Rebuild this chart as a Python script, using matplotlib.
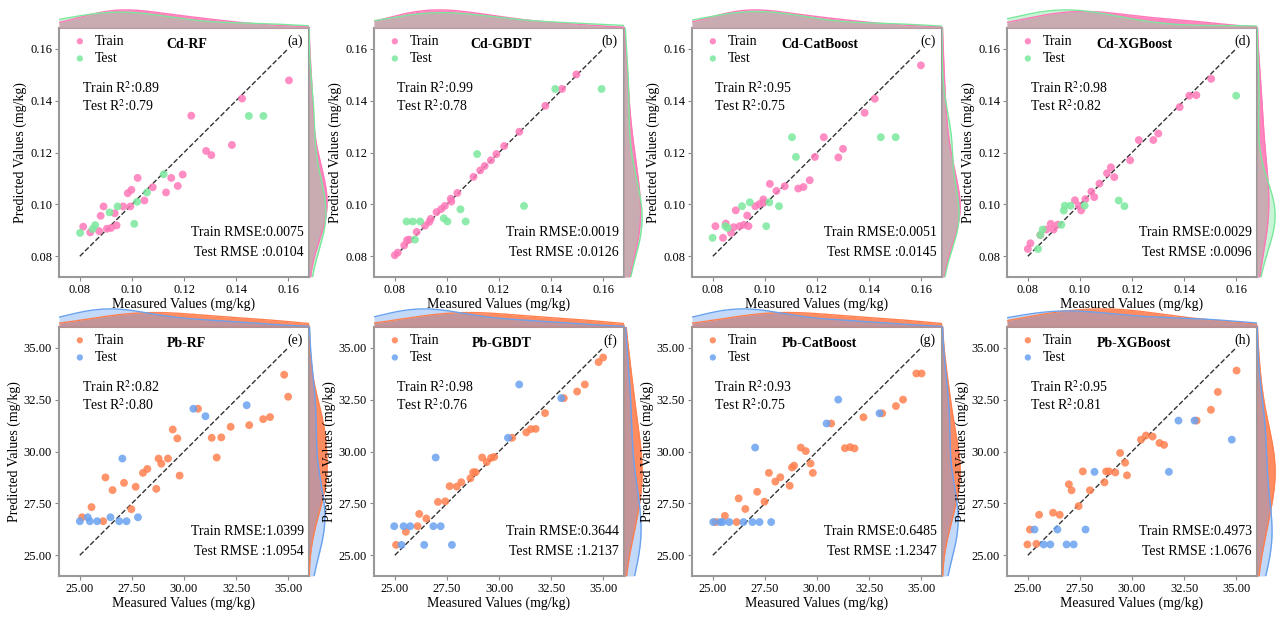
import numpy as np
import matplotlib
matplotlib.use('Agg')
import matplotlib.pyplot as plt

plt.rcParams['font.family'] = ['Liberation Serif', 'DejaVu Serif']
plt.rcParams['mathtext.fontset'] = 'stix'

# ---- data ----
cd_rf_train_x = [0.0813, 0.0840, 0.0874, 0.0880, 0.0891, 0.0904, 0.0920, 0.0934, 0.0941, 0.0966, 0.0984, 0.0998, 0.0994,
                 0.1022, 0.1048, 0.1080, 0.1131, 0.1151, 0.1176, 0.1195, 0.1228, 0.1285, 0.1305, 0.1384, 0.1423, 0.1603]
cd_rf_train_y = [0.0914, 0.0892, 0.0897, 0.0956, 0.0992, 0.0906, 0.0909, 0.0966, 0.0919, 0.0992, 0.1043, 0.1056, 0.0992,
                 0.1102, 0.1015, 0.1066, 0.1046, 0.1102, 0.1071, 0.1115, 0.1342, 0.1206, 0.1190, 0.1229, 0.1408, 0.1478]
cd_rf_test_x = [0.0801, 0.0849, 0.0859, 0.0914, 0.0945, 0.1009, 0.1020, 0.1058, 0.1122, 0.1449, 0.1505]
cd_rf_test_y = [0.0890, 0.0905, 0.0920, 0.0969, 0.0992, 0.0925, 0.1010, 0.1046, 0.1116, 0.1341, 0.1341]

cd_gbdt_train_x = [0.0800, 0.0811, 0.0836, 0.0847, 0.0855, 0.0884, 0.0916, 0.0932, 0.0938, 0.0960, 0.0978, 0.0992, 0.1015,
                   0.1017, 0.1040, 0.1102, 0.1128, 0.1145, 0.1169, 0.1190, 0.1220, 0.1278, 0.1378, 0.1442, 0.1497]
cd_gbdt_train_y = [0.0804, 0.0814, 0.0842, 0.0862, 0.0864, 0.0894, 0.0918, 0.0932, 0.0944, 0.0970, 0.0982, 0.0994, 0.1022,
                   0.1011, 0.1044, 0.1106, 0.1131, 0.1148, 0.1170, 0.1194, 0.1225, 0.1280, 0.1380, 0.1445, 0.1501]
cd_gbdt_test_x = [0.0845, 0.0869, 0.0897, 0.0877, 0.0988, 0.1002, 0.1052, 0.1072, 0.1116, 0.1296, 0.1416, 0.1594]
cd_gbdt_test_y = [0.0934, 0.0934, 0.0934, 0.0864, 0.0946, 0.0934, 0.0981, 0.0934, 0.1194, 0.0994, 0.1445, 0.1445]

cd_cat_train_x = [0.0810, 0.0839, 0.0850, 0.0870, 0.0880, 0.0888, 0.0903, 0.0919, 0.0932, 0.0937, 0.0963, 0.0979, 0.0994, 0.0994,
                  0.1019, 0.1044, 0.1076, 0.1128, 0.1148, 0.1172, 0.1192, 0.1226, 0.1282, 0.1300, 0.1383, 0.1422, 0.1599]
cd_cat_train_y = [0.0916, 0.0871, 0.0926, 0.0890, 0.0912, 0.0977, 0.0916, 0.0921, 0.0957, 0.0916, 0.0993, 0.1001, 0.1019, 0.1006,
                  0.1079, 0.1052, 0.1070, 0.1061, 0.1067, 0.1093, 0.1183, 0.1259, 0.1181, 0.1214, 0.1353, 0.1407, 0.1536]
cd_cat_test_x = [0.0799, 0.0848, 0.0857, 0.0912, 0.0942, 0.1005, 0.1017, 0.1054, 0.1104, 0.1119, 0.1445, 0.1502]
cd_cat_test_y = [0.0871, 0.0916, 0.0909, 0.0993, 0.1008, 0.0916, 0.1008, 0.0993, 0.1259, 0.1183, 0.1259, 0.1259]

cd_xgb_train_x = [0.0800, 0.0810, 0.0848, 0.0871, 0.0888, 0.0899, 0.0915, 0.0981, 0.0996, 0.1005, 0.1021, 0.1044, 0.1055,
                  0.1075, 0.1104, 0.1119, 0.1132, 0.1193, 0.1226, 0.1282, 0.1301, 0.1383, 0.1420, 0.1447, 0.1504]
cd_xgb_train_y = [0.0828, 0.0850, 0.0882, 0.0903, 0.0925, 0.0903, 0.0922, 0.1016, 0.0995, 0.0977, 0.1020, 0.1049, 0.1028,
                  0.1080, 0.1120, 0.1143, 0.1105, 0.1170, 0.1248, 0.1248, 0.1273, 0.1375, 0.1419, 0.1421, 0.1484]
cd_xgb_test_x = [0.0839, 0.0848, 0.0857, 0.0929, 0.0938, 0.0942, 0.0964, 0.1018, 0.1149, 0.1171, 0.1600]
cd_xgb_test_y = [0.0828, 0.0882, 0.0903, 0.0921, 0.0976, 0.0995, 0.0995, 0.0995, 0.1015, 0.0993, 0.1419]

pb_rf_train_x = [25.11, 25.56, 26.12, 26.23, 26.57, 27.12, 27.47, 27.68, 28.03, 28.24, 28.67, 28.78, 28.91, 29.23,
                 29.46, 29.68, 29.79, 30.67, 31.33, 31.57, 31.79, 32.24, 33.13, 33.80, 34.13, 34.81, 35.00]
pb_rf_train_y = [26.83, 27.32, 26.64, 28.75, 28.14, 28.49, 27.22, 28.30, 28.97, 29.16, 28.20, 29.66, 29.41, 29.66,
                 31.06, 30.63, 28.84, 32.06, 30.66, 29.71, 30.68, 31.19, 31.27, 31.56, 31.66, 33.70, 32.64]
pb_rf_test_x = [25.00, 25.38, 25.48, 25.83, 26.47, 26.89, 27.04, 27.24, 27.79, 30.45, 31.03, 33.01]
pb_rf_test_y = [26.64, 26.83, 26.64, 26.64, 26.83, 26.64, 29.66, 26.64, 26.83, 32.06, 31.70, 32.23]

pb_gbdt_train_x = [25.06, 25.53, 26.09, 26.17, 26.51, 27.07, 27.42, 27.63, 27.97, 28.19, 28.63, 28.76, 28.88, 29.19,
                   29.41, 29.62, 29.77, 30.63, 31.31, 31.53, 31.76, 32.21, 33.11, 33.75, 34.12, 34.78, 35.00]
pb_gbdt_train_y = [25.50, 26.13, 26.40, 26.99, 26.77, 27.57, 27.60, 28.33, 28.31, 28.52, 28.71, 29.00, 29.00, 29.71,
                   29.49, 29.69, 29.74, 30.66, 30.92, 31.08, 31.09, 31.85, 32.57, 32.89, 33.23, 34.31, 34.53]
pb_gbdt_test_x = [24.97, 25.32, 25.42, 25.74, 26.41, 26.85, 26.96, 27.20, 27.74, 30.43, 30.97, 32.99]
pb_gbdt_test_y = [26.40, 25.50, 26.40, 26.40, 25.50, 26.40, 29.71, 26.40, 25.50, 30.66, 33.23, 32.57]

pb_cat_train_x = [25.14, 25.58, 26.14, 26.24, 26.56, 27.13, 27.48, 27.69, 28.00, 28.24, 28.69, 28.80, 28.90, 29.22,
                  29.46, 29.69, 29.80, 30.68, 31.34, 31.59, 31.80, 32.23, 33.13, 33.79, 34.13, 34.77, 35.02]
pb_cat_train_y = [26.60, 26.90, 26.60, 27.74, 27.23, 28.06, 27.58, 28.97, 28.55, 28.76, 28.35, 29.23, 29.32, 30.19,
                  30.02, 29.42, 28.97, 31.35, 30.16, 30.21, 30.15, 31.65, 31.84, 32.19, 32.50, 33.76, 33.76]
pb_cat_test_x = [25.02, 25.35, 25.47, 25.79, 26.47, 26.90, 27.03, 27.24, 27.80, 30.46, 31.02, 33.00]
pb_cat_test_y = [26.60, 26.60, 26.60, 26.60, 26.60, 26.60, 30.19, 26.60, 26.60, 31.35, 32.50, 31.84]

pb_xgb_train_x = [24.98, 25.10, 25.41, 25.54, 26.21, 26.53, 26.97, 27.10, 27.44, 27.64, 27.98, 28.68, 28.76, 28.90,
                  29.20, 29.43, 29.67, 29.76, 30.43, 30.67, 30.99, 31.32, 31.54, 33.10, 33.79, 34.12, 35.02]
pb_xgb_train_y = [25.52, 26.24, 25.55, 26.95, 27.05, 26.95, 28.42, 28.13, 27.37, 29.04, 28.13, 28.51, 29.04, 29.04,
                  28.99, 29.93, 29.46, 28.85, 30.57, 30.77, 30.72, 30.41, 30.32, 31.49, 32.01, 32.87, 33.90]
pb_xgb_test_x = [25.32, 25.76, 26.08, 26.42, 26.86, 27.20, 27.77, 28.20, 31.77, 32.23, 33.00, 34.79]
pb_xgb_test_y = [26.24, 25.52, 25.52, 26.24, 25.52, 25.52, 26.24, 29.02, 29.02, 31.49, 31.49, 30.57]

titles = ['Cd-RF', 'Cd-GBDT', 'Cd-CatBoost', 'Cd-XGBoost', 'Pb-RF', 'Pb-GBDT', 'Pb-CatBoost', 'Pb-XGBoost']
tags = ['(a)', '(b)', '(c)', '(d)', '(e)', '(f)', '(g)', '(h)']
train_r2 = ['0.89', '0.99', '0.95', '0.98', '0.82', '0.98', '0.93', '0.95']
test_r2 = ['0.79', '0.78', '0.75', '0.82', '0.80', '0.76', '0.75', '0.81']
train_rmse = ['0.0075', '0.0019', '0.0051', '0.0029', '1.0399', '0.3644', '0.6485', '0.4973']
test_rmse = ['0.0104', '0.0126', '0.0145', '0.0096', '1.0954', '1.2137', '1.2347', '1.0676']

panels = [
    (cd_rf_train_x, cd_rf_train_y, cd_rf_test_x, cd_rf_test_y),
    (cd_gbdt_train_x, cd_gbdt_train_y, cd_gbdt_test_x, cd_gbdt_test_y),
    (cd_cat_train_x, cd_cat_train_y, cd_cat_test_x, cd_cat_test_y),
    (cd_xgb_train_x, cd_xgb_train_y, cd_xgb_test_x, cd_xgb_test_y),
    (pb_rf_train_x, pb_rf_train_y, pb_rf_test_x, pb_rf_test_y),
    (pb_gbdt_train_x, pb_gbdt_train_y, pb_gbdt_test_x, pb_gbdt_test_y),
    (pb_cat_train_x, pb_cat_train_y, pb_cat_test_x, pb_cat_test_y),
    (pb_xgb_train_x, pb_xgb_train_y, pb_xgb_test_x, pb_xgb_test_y),
]

CD_COLORS = ('#ff78b8', '#7ae89c')
PB_COLORS = ('#ff8050', '#6aa2f0')


def kde(values, grid, adjust=1.25):
    # plain gaussian kde, scott bandwidth scaled up a bit
    values = np.asarray(values, dtype=float)
    bw = adjust * values.std(ddof=1) * len(values) ** (-1 / 5)
    z = (grid[:, None] - values[None, :]) / bw
    return np.exp(-0.5 * z ** 2).sum(axis=1) / (len(values) * bw * np.sqrt(2 * np.pi))


W, H = 1286, 621
fig = plt.figure(figsize=(W / 100, H / 100), dpi=100)

lefts = [59, 374, 692, 1007]
tops = [28, 327]
size_w, size_h = 250, 249
marg = 19

for i, (trx, tr_y, tex, tey) in enumerate(panels):
    row, col = divmod(i, 4)
    left = lefts[col] / W
    bottom = (H - tops[row] - size_h) / H
    ax = fig.add_axes([left, bottom, size_w / W, size_h / H])
    ax_top = fig.add_axes([left, bottom + size_h / H, size_w / W, marg / H])
    ax_right = fig.add_axes([left + size_w / W, bottom, marg / W, size_h / H])

    if row == 0:
        c_train, c_test = CD_COLORS
        lo, hi = 0.08, 0.16
        lim = (0.072, 0.168)
        ticks = [0.08, 0.10, 0.12, 0.14, 0.16]
    else:
        c_train, c_test = PB_COLORS
        lo, hi = 25, 35
        lim = (24.0, 36.0)
        ticks = [25, 27.5, 30, 32.5, 35]

    ax.scatter(trx, tr_y, s=32, color=c_train, alpha=0.85, edgecolors='none', label='Train', zorder=3)
    ax.scatter(tex, tey, s=32, color=c_test, alpha=0.85, edgecolors='none', label='Test', zorder=3)
    ax.plot([lo, hi], [lo, hi], ls='--', color='#333333', lw=1.0, zorder=2)

    ax.set_xlim(lim)
    ax.set_ylim(lim)
    ax.set_xticks(ticks)
    ax.set_yticks(ticks)
    ax.set_xticklabels(['{:.2f}'.format(t) for t in ticks])
    ax.set_yticklabels(['{:.2f}'.format(t) for t in ticks])
    ax.tick_params(labelsize=9, length=3, color='#888888', pad=2)
    for sp in ax.spines.values():
        sp.set_color('#999999')
        sp.set_linewidth(1.5)
    ax.set_xlabel('Measured Values (mg/kg)', fontsize=10, labelpad=1)
    ax.set_ylabel('Predicted Values (mg/kg)', fontsize=10, labelpad=2)

    ax.legend(loc='upper left', frameon=False, fontsize=10, handletextpad=0.1, labelspacing=0.3,
              borderaxespad=0.3, markerscale=0.8, borderpad=0.2)
    ax.text(0.51, 0.935, titles[i], transform=ax.transAxes, ha='center', va='center', fontsize=10, fontweight='bold')
    ax.text(0.975, 0.945, tags[i], transform=ax.transAxes, ha='right', va='center', fontsize=10)
    ax.text(0.09, 0.76, 'Train R$^2$:' + train_r2[i], transform=ax.transAxes, ha='left', va='center', fontsize=10)
    ax.text(0.09, 0.685, 'Test R$^2$:' + test_r2[i], transform=ax.transAxes, ha='left', va='center', fontsize=10)
    ax.text(0.98, 0.178, 'Train RMSE:' + train_rmse[i], transform=ax.transAxes, ha='right', va='center', fontsize=10)
    ax.text(0.98, 0.10, 'Test RMSE :' + test_rmse[i], transform=ax.transAxes, ha='right', va='center', fontsize=10)

    grid = np.linspace(lim[0], lim[1], 300)
    # top margin: measured values
    d_tr, d_te = kde(trx, grid), kde(tex, grid)
    ax_top.fill_between(grid, 0, d_tr, color=c_train, alpha=0.9, lw=0)
    ax_top.plot(grid, d_tr, color=c_train, lw=1)
    ax_top.fill_between(grid, 0, d_te, color=c_test, alpha=0.4, lw=0)
    ax_top.plot(grid, d_te, color=c_test, lw=1)
    ax_top.set_xlim(lim)
    ax_top.set_ylim(0, max(d_tr.max(), d_te.max()) * 1.05)
    # right margin: predicted values
    d_tr, d_te = kde(tr_y, grid), kde(tey, grid)
    ax_right.fill_betweenx(grid, 0, d_tr, color=c_train, alpha=0.9, lw=0)
    ax_right.plot(d_tr, grid, color=c_train, lw=1)
    ax_right.fill_betweenx(grid, 0, d_te, color=c_test, alpha=0.4, lw=0)
    ax_right.plot(d_te, grid, color=c_test, lw=1)
    ax_right.set_ylim(lim)
    ax_right.set_xlim(0, max(d_tr.max(), d_te.max()) * 1.05)
    for m in (ax_top, ax_right):
        m.axis('off')

fig.savefig('out.png', dpi=100)
